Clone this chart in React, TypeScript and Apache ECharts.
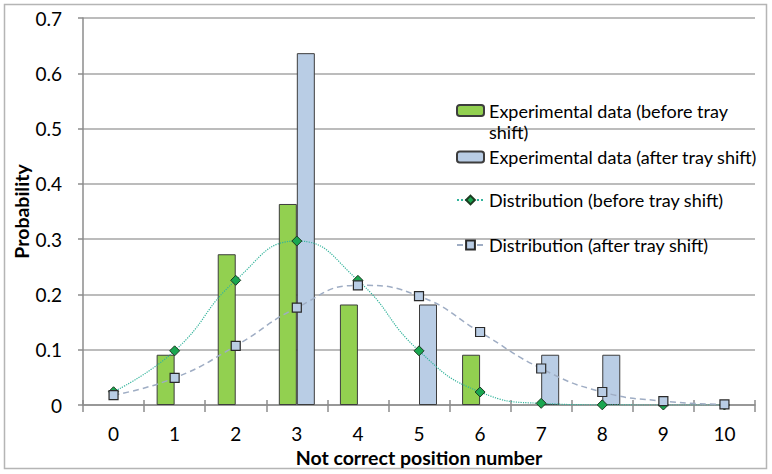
import React, { useEffect, useRef } from "react";
import * as echarts from "echarts";

const categories = ["0", "1", "2", "3", "4", "5", "6", "7", "8", "9", "10"];
const expBefore = [0, 0.0909, 0.2727, 0.3636, 0.1818, 0, 0.0909, 0, 0, 0, 0];
const expAfter = [0, 0, 0, 0.6364, 0, 0.1818, 0, 0.0909, 0.0909, 0, 0];
const distBefore = [0.024, 0.098, 0.2255, 0.2966, 0.2255, 0.098, 0.0235, 0.003, 0.0003, 0, 0];
const distAfter = [0.018, 0.049, 0.107, 0.176, 0.2165, 0.197, 0.132, 0.066, 0.0235, 0.007, 0.001];

const names = [
  "Experimental data (before tray shift)",
  "Experimental data (after tray shift)",
  "Distribution (before tray shift)",
  "Distribution (after tray shift)",
];

const FONT = "Lato";

export default function App() {
  const ref = useRef<HTMLDivElement>(null);
  useEffect(() => {
    document.body.style.margin = "0";
    const chart = echarts.init(ref.current!, null, { renderer: "svg" });
    const legendText = { fontFamily: FONT, fontSize: 18, color: "#000", lineHeight: 21 };
    const mkLegend = (name: string, top: number, formatter?: () => string) => ({
      data: [name],
      left: 456,
      top,
      itemWidth: 27,
      itemHeight: 11,
      itemGap: 0,
      padding: 0,
      selectedMode: false,
      textStyle: legendText,
      formatter,
    });
    const bars = (arr: number[]) => arr.map((v) => (v === 0 ? null : v));
    const axisGray = "#8c8c8c";
    chart.setOption({
      animation: false,
      textStyle: { fontFamily: FONT },
      graphic: [
        {
          type: "rect",
          shape: { x: 4.5, y: 4.5, width: 762, height: 464 },
          style: { fill: "none", stroke: "#b5b5b5", lineWidth: 1.5 },
          silent: true,
        },
      ],
      grid: { left: 83, right: 17, top: 18, bottom: 69, containLabel: false, outerBoundsMode: "none" },
      legend: [
        mkLegend(names[0], 79, () => "\nExperimental data (before tray\nshift)"),
        mkLegend(names[1], 146.5),
        mkLegend(names[2], 189.5),
        mkLegend(names[3], 234.5),
      ],
      xAxis: [
        {
          type: "category",
          data: categories,
          name: "Not correct position number",
          nameLocation: "middle",
          nameGap: 42,
          nameMoveOverlap: false,
          nameTextStyle: { fontFamily: FONT, fontSize: 19.5, fontWeight: "bold", color: "#000" },
          axisLine: { lineStyle: { color: axisGray, width: 1.5 } },
          axisTick: { show: true, length: 7, lineStyle: { color: axisGray, width: 1.5 } },
          axisLabel: { fontFamily: FONT, fontSize: 19, color: "#000", margin: 19 },
        },
        {
          type: "category",
          data: categories,
          position: "bottom",
          axisLine: { show: false },
          axisTick: { show: true, inside: true, length: 5, lineStyle: { color: axisGray, width: 1.5 } },
          axisLabel: { show: false },
          splitLine: { show: false },
        },
      ],
      yAxis: {
        type: "value",
        min: 0,
        max: 0.7,
        interval: 0.1,
        name: "Probability",
        nameLocation: "middle",
        nameGap: 52,
        nameMoveOverlap: false,
        nameTextStyle: { fontFamily: FONT, fontSize: 19.5, fontWeight: "bold", color: "#000" },
        axisLine: { show: true, lineStyle: { color: axisGray, width: 1.5 } },
        axisTick: { show: true, length: 5, lineStyle: { color: axisGray, width: 1.5 } },
        splitLine: { lineStyle: { color: "#a6a6a6", width: 1.5 } },
        axisLabel: {
          fontFamily: FONT,
          fontSize: 19,
          color: "#000",
          margin: 21,
          formatter: (v: number) => (v === 0 ? "0" : String(Math.round(v * 10) / 10)),
        },
      },
      series: [
        {
          name: names[0],
          type: "bar",
          data: bars(expBefore),
          barWidth: 18,
          barGap: "0%",
          itemStyle: { color: "#92d050", borderColor: "#3d3d3d", borderWidth: 1 },
          z: 2,
        },
        {
          name: names[1],
          type: "bar",
          data: bars(expAfter),
          barWidth: 18,
          barGap: "0%",
          itemStyle: { color: "#b9cde5", borderColor: "#3d3d3d", borderWidth: 1 },
          z: 2,
        },
        {
          name: names[2],
          type: "line",
          data: distBefore,
          smooth: true,
          symbol: "diamond",
          symbolSize: 10,
          lineStyle: { color: "#34b49c", width: 1.2, type: "dotted" },
          itemStyle: { color: "#1aa650", borderColor: "#1d3b22", borderWidth: 1 },
          z: 4,
        },
        {
          name: names[3],
          type: "line",
          data: distAfter,
          smooth: true,
          symbol: "rect",
          symbolSize: 9,
          lineStyle: { color: "#9fadc4", width: 1.5, type: [6, 4] },
          itemStyle: { color: "#b9cde5", borderColor: "#2a2a2a", borderWidth: 1.2 },
          z: 5,
        },
      ],
    });
    return () => chart.dispose();
  }, []);
  return <div ref={ref} style={{ width: 772, height: 474 }} />;
}
